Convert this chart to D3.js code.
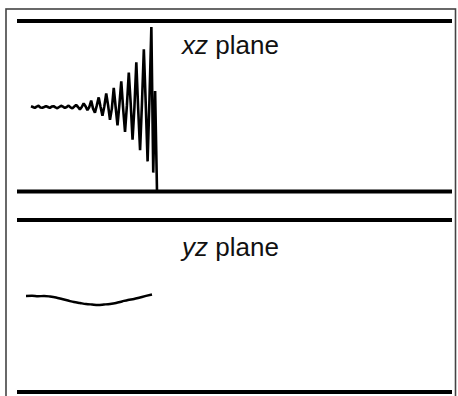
<!DOCTYPE html>
<html>
<head>
<meta charset="utf-8">
<script src="https://cdn.jsdelivr.net/npm/d3@7"></script>
<style>
html,body{margin:0;padding:0;background:#fff;}
svg{display:block;}
</style>
</head>
<body>
<svg id="chart" width="458" height="396"></svg>
<script>
// Panel labels
const planeNames = ["xz", "yz"];
const planeWord = " plane";

// xz-plane trace (relative amplitude, uniformly sampled)
const xzValues = [
  0.01, 0.0, -0.012, 0.005,
  0.015, -0.005, -0.01, 0.0,
  0.012, 0.0, -0.012, 0.005,
  0.01, -0.005, -0.015, 0.0,
  0.015, 0.005, -0.012, 0.0,
  0.018, -0.005, -0.018, 0.005,
  0.025, 0.0, -0.03, 0.0,
  0.045, 0.01, -0.04, 0.0,
  0.08, -0.02, -0.07, 0.02,
  0.12, 0.0, -0.11, 0.01,
  0.17, 0.02, -0.16, -0.02,
  0.24, 0.0, -0.23, 0.03,
  0.32, -0.02, -0.31, 0.02,
  0.43, 0.05, -0.41, 0.0,
  0.56, -0.03, -0.54, 0.04,
  0.72, 0.05, -0.68, 0.1,
  1.0, -0.82, 0.2, -1.05
];

// yz-plane trace (relative amplitude, uniformly sampled)
const yzValues = [
  0.038, 0.04, 0.035, 0.038, 0.031, 0.019, 0.0, -0.019, -0.038, -0.05, -0.062,
  -0.069, -0.075, -0.069, -0.062, -0.05, -0.031, -0.012, 0.0, 0.019, 0.038, 0.056
];

const svg = d3.select("#chart");

// outer frame
svg.append("rect")
  .attr("x", 6).attr("y", 9).attr("width", 449.5).attr("height", 400)
  .attr("fill", "none").attr("stroke", "#444").attr("stroke-width", 1.6);

// panel rules
const rules = [21, 191.5, 220, 392];
svg.selectAll("line.rule").data(rules).enter().append("line")
  .attr("class", "rule")
  .attr("x1", 17).attr("x2", 452)
  .attr("y1", d => d).attr("y2", d => d)
  .attr("stroke", "#000").attr("stroke-width", 4);

// scales
const xTop = d3.scaleLinear().domain([0, xzValues.length - 1]).range([31, 157]);
const yTop = d3.scaleLinear().domain([-1, 1]).range([187, 27]);
const xBot = d3.scaleLinear().domain([0, yzValues.length - 1]).range([26, 152]);
const yBot = d3.scaleLinear().domain([-1, 1]).range([379, 219]);

const lineTop = d3.line().x((d, i) => xTop(i)).y(d => yTop(d));
const lineBot = d3.line().x((d, i) => xBot(i)).y(d => yBot(d)).curve(d3.curveMonotoneX);

svg.append("path").datum(xzValues)
  .attr("d", lineTop).attr("fill", "none")
  .attr("stroke", "#000").attr("stroke-width", 2.6).attr("stroke-linejoin", "bevel");

svg.append("path").datum(yzValues)
  .attr("d", lineBot).attr("fill", "none")
  .attr("stroke", "#000").attr("stroke-width", 2.4);

// labels
const labelY = [54, 256];
planeNames.forEach((n, i) => {
  const t = svg.append("text")
    .attr("x", 182).attr("y", labelY[i])
    .attr("font-family", "Liberation Sans, Arial, sans-serif")
    .attr("font-size", 26).attr("fill", "#111");
  t.append("tspan").attr("font-style", "italic").text(n);
  t.append("tspan").text(planeWord);
});
</script>
</body>
</html>
